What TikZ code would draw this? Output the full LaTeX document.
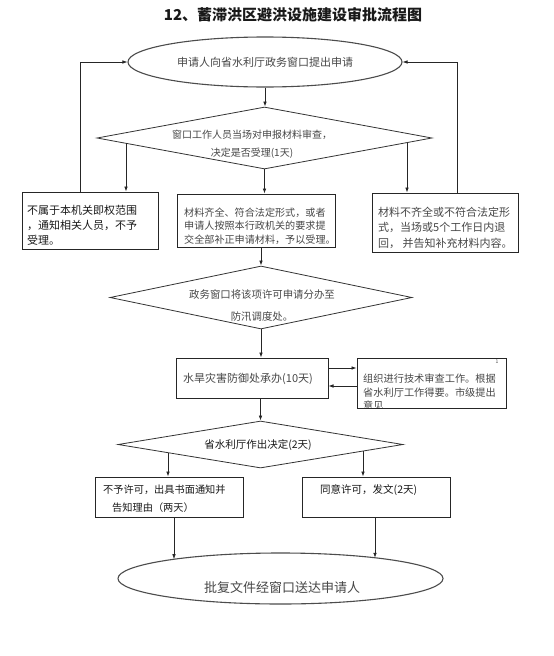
\documentclass[tikz,border=0pt]{standalone}
\usepackage{fontspec}
\setmainfont{Noto Sans CJK SC}
\usetikzlibrary{shapes.geometric,arrows.meta,calc}
\begin{document}
\begin{tikzpicture}[x=1pt,y=-1pt,
  ln/.style={draw=black!85,line width=0.75pt},
  arr/.style={ln,-{Latex[length=5pt,width=3.6pt]}},
  box/.style={draw=black!85,line width=1pt,rectangle,inner sep=0pt},
  dia/.style={draw=black!80,line width=0.8pt,diamond,inner sep=0pt},
  ell/.style={draw=black!70,line width=1.1pt,ellipse,inner sep=0pt},
  lt/.style={inner sep=0pt,text=black!72},
  dk/.style={inner sep=0pt,text=black!90},
]
\fill[white] (0,0) rectangle (554,656);
\useasboundingbox (0,0) rectangle (554,656);

\node[dk,font=\bfseries\fontsize{15}{18}\selectfont] (title) at (293,15) {12、蓄滞洪区避洪设施建设审批流程图};

% top ellipse
\node[ell,minimum width=274pt,minimum height=50pt,lt,font=\fontsize{11}{13}\selectfont] (e1) at (265,62) {申请人向省水利厅政务窗口提出申请};

% diamond 1
\node[dia,minimum width=335pt,minimum height=62pt] (d1) at (264.5,138) {};
\node[lt,font=\fontsize{10}{18}\selectfont,align=center] (d1t) at (252,144) {窗口工作人员当场对申报材料审查，\\决定是否受理(1天)};

% three boxes
\node[box,minimum width=136pt,minimum height=57pt] (b1) at (90,220.5) {};
\node[dk,anchor=west,align=left,font=\fontsize{11}{15}\selectfont] (b1t) at (27,225) {不属于本机关即权范围\\，通知相关人员，不予\\受理。};

\node[box,minimum width=158pt,minimum height=53pt] (b2) at (256,220.5) {};
\node[lt,anchor=west,align=left,font=\fontsize{10.1}{13.5}\selectfont] (b2t) at (184,226) {材料齐全、符合法定形式，或者\\申请人按照本行政机关的要求提\\交全部补正申请材料，予以受理。};

\node[box,minimum width=146pt,minimum height=59pt] (b3) at (445,222.5) {};
\node[lt,anchor=west,align=left,font=\fontsize{11}{15.5}\selectfont] (b3t) at (378,227.5) {材料不齐全或不符合法定形\\式，当场或5个工作日内退\\回， 并告知补充材料内容。};

% diamond 2
\node[dia,minimum width=302pt,minimum height=63pt] (d2) at (261,297.5) {};
\node[lt,font=\fontsize{10.4}{22}\selectfont,align=center] (d2t) at (262,306) {政务窗口将该项许可申请分办至\\防汛调度处。};

% 水旱 box and side box
\node[box,minimum width=152pt,minimum height=40pt] (b4) at (252,378) {};
\node[lt,anchor=west,font=\fontsize{11}{13}\selectfont] (b4t) at (183,379) {水旱灾害防御处承办(10天)};

\begin{scope}
\clip (357,358) rectangle (506,408);
\node[lt,anchor=west,align=left,font=\fontsize{10.2}{13.5}\selectfont] (b5t) at (363,392.5) {组织进行技术审查工作。根据\\省水利厅工作得要。市级提出\\意见};
\end{scope}
\node[box,minimum width=149pt,minimum height=50pt] (b5) at (431.5,383) {};
\node[lt,font=\fontsize{5}{6}\selectfont] (b5n) at (497,362) {1};

% diamond 3
\node[dia,minimum width=285pt,minimum height=47pt] (d3) at (260.5,444.5) {};
\node[dk,font=\fontsize{10.5}{13}\selectfont] (d3t) at (258,445) {省水利厅作出决定(2天)};

% bottom boxes
\node[box,minimum width=148pt,minimum height=40pt] (b6) at (169,497) {};
\node[dk,anchor=west,align=left,font=\fontsize{10.2}{18}\selectfont] (b6t) at (103,499) {不予许可，出具书面通知并\\\hspace*{9pt}告知理由（两天）};

\node[box,minimum width=148pt,minimum height=40pt] (b7) at (376,497) {};
\node[dk,anchor=west,font=\fontsize{10.5}{13}\selectfont] (b7t) at (320,490) {同意许可，发文(2天)};

% bottom ellipse
\node[ell,minimum width=325pt,minimum height=51pt] (e2) at (280.5,578.5) {};
\node[lt,font=\fontsize{13}{15}\selectfont] (e2t) at (282,588) {批复文件经窗口送达申请人};

% connectors
\coordinate (d1L) at (126,143.4);
\coordinate (d1R) at (407,142.6);
\coordinate (d3L) at (168,452.7);
\coordinate (d3R) at (363,451.1);
\coordinate (e2L) at (174,559.2);
\coordinate (e2R) at (375,557.8);

\draw[arr] (e1.south) -- (e1.south |- d1.north);
\draw[arr] (d1L) -- (d1L |- b1.north);
\draw[arr] (d1.south) -- (d1.south |- b2.north);
\draw[arr] (d1R) -- (d1R |- b3.north);
\draw[arr] ([xshift=-10pt]b1.north) |- (e1.west);
\draw[arr] ([xshift=12pt]b3.north) |- (e1.east);
\draw[arr] (b2.south -| d2.north) -- (d2.north);
\draw[arr] (d2.south) -- (d2.south |- b4.north);
\draw[arr] ([yshift=10pt]b4.east) -- ([yshift=10pt]b4.east -| b5.west);
\draw[arr] ([yshift=-8pt]b4.east -| b5.west) -- ([yshift=-8pt]b4.east);
\draw[arr] (b4.south -| d3.north) -- (d3.north);
\draw[arr] (d3L) -- (d3L |- b6.north);
\draw[arr] (d3R) -- (d3R |- b7.north);
\draw[arr] (b6.south -| e2L) -- (e2L);
\draw[arr] (b7.south -| e2R) -- (e2R);
\end{tikzpicture}
\end{document}
